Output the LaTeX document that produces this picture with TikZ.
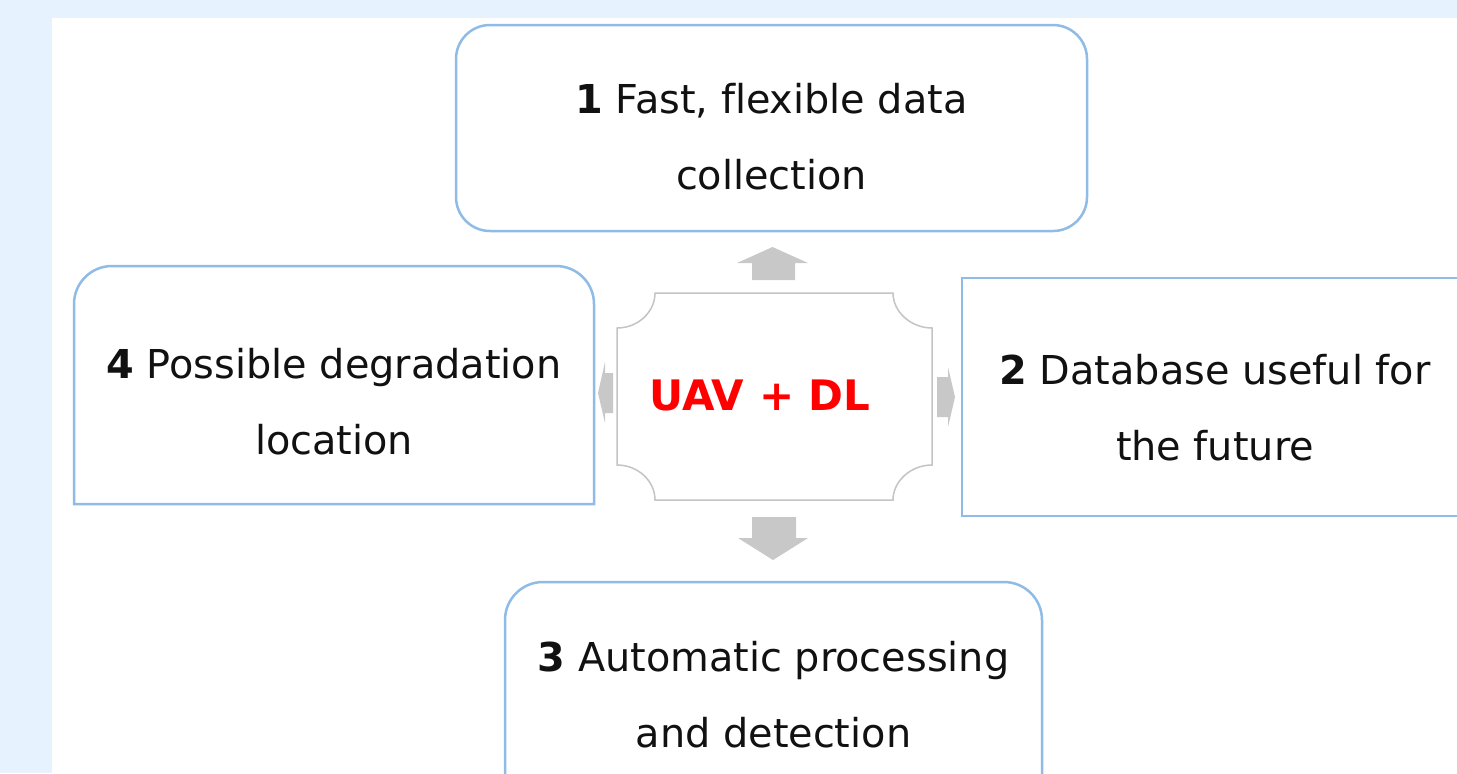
\documentclass[tikz,border=0pt]{standalone}
\usepackage{fontspec}
\setmainfont[Ligatures=NoCommon]{DejaVu Sans}
\definecolor{bgblue}{HTML}{E6F2FE}
\definecolor{boxblue}{HTML}{8FBCE6}
\definecolor{arrowgray}{HTML}{C8C8C8}
\definecolor{plaquegray}{HTML}{C4C4C4}
\definecolor{textblack}{HTML}{111111}
\tikzset{
  boxline/.style={draw=boxblue, line width=1.25pt, fill=white},
  boxtext/.style={align=center, text=textblack, inner sep=0pt,
    font=\fontsize{19.9pt}{38pt}\selectfont},
  blockarrow/.style={fill=arrowgray, draw=none},
  centertext/.style={text=red, inner sep=0pt, font=\fontsize{21pt}{24pt}\selectfont\bfseries},
}
\begin{document}
\begin{tikzpicture}[x=0.5pt, y=-0.5pt]
\useasboundingbox (0,0) rectangle (1457,773);
\clip (0,0) rectangle (1457,773);
% background
\fill[bgblue] (0,0) rectangle (1457,773);
\fill[white] (52,18) rectangle (1457,773);

% box 1 (top)
\draw[boxline, rounded corners=17pt] (456,25) rectangle (1087,231);
% box 4 (left)
\draw[boxline] (74,504) -- (74,304) arc[start angle=180, end angle=270, radius=38]
  -- (556,266) arc[start angle=270, end angle=360, radius=38] -- (594,504) -- cycle;
% box 2 (right)
\draw[boxline] (1480,516) -- (962,516) -- (962,278) -- (1480,278);
% box 3 (bottom)
\draw[boxline] (505,800) -- (505,620) arc[start angle=180, end angle=270, radius=38]
  -- (1004,582) arc[start angle=270, end angle=360, radius=38] -- (1042,800);

% centre plaque
\draw[draw=plaquegray, line width=0.75pt, fill=white]
  (655,293) -- (893,293)
  .. controls (893,312) and (911,328) .. (932,328)
  -- (932,465)
  .. controls (911,465) and (893,481) .. (893,500)
  -- (655,500)
  .. controls (655,481) and (638,465) .. (617,465)
  -- (617,328)
  .. controls (638,328) and (655,312) .. (655,293) -- cycle;

% block arrows
\fill[blockarrow] (752,280) -- (752,263) -- (737,263) -- (772.5,247) -- (808,263) -- (795,263) -- (795,280) -- cycle;
\fill[blockarrow] (752,517) -- (796,517) -- (796,538) -- (808,538) -- (773,560) -- (738,538) -- (752,538) -- cycle;
\fill[blockarrow] (613,373) -- (605,373) -- (605,362) -- (598,393) -- (605,423) -- (605,413) -- (613,413) -- cycle;
\fill[blockarrow] (937,377) -- (948,377) -- (948,367) -- (955,397) -- (948,427) -- (948,417) -- (937,417) -- cycle;

% texts (base anchor = baseline of the last line)
\node[centertext, anchor=base] (core) at (760,410) {UAV + DL};
\node[boxtext, anchor=base] (t1) at (771.5,189) {\textbf{1} Fast, flexible data\\collection};
\node[boxtext, anchor=base] (t4) at (334,454) {\textbf{4} Possible degradation\\location};
\node[boxtext, anchor=base] (t2) at (1215,460) {\textbf{2} Database useful for\\the future};
\node[boxtext, anchor=base] (t3) at (773.5,747) {\textbf{3} Automatic processing\\and detection};
\end{tikzpicture}
\end{document}
